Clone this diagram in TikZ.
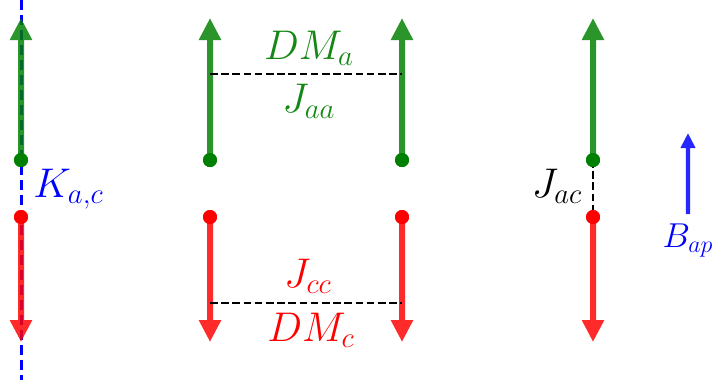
\documentclass[tikz,border=0pt]{standalone}
\usetikzlibrary{arrows.meta}
\definecolor{dgreen}{RGB}{0,128,0}
\definecolor{tgreen}{RGB}{20,135,20}
\tikzset{
  spin/.style={line width=3pt, -{Triangle[length=11pt,width=10.5pt]}},
  upspin/.style={spin, draw=dgreen},
  downspin/.style={spin, draw=red},
  tg/.style={transparency group, opacity=0.83},
  gdot/.style={circle, fill=dgreen, inner sep=0pt, minimum size=7pt},
  rdot/.style={circle, fill=red, inner sep=0pt, minimum size=7pt},
  bond/.style={line width=1.4pt, dash pattern=on 3.8pt off 1.8pt},
  axis/.style={line width=1.5pt, blue, dash pattern=on 5pt off 2.5pt},
  lab/.style={font=\huge, inner sep=0pt, anchor=base},
}
\begin{document}
\begin{tikzpicture}[x=0.5pt,y=-0.5pt]
\useasboundingbox (0,0) rectangle (718,388);
% left column
\coordinate (axtop) at (21,0);
\coordinate (axbot) at (21,380);
\draw[axis] (axtop) -- (axbot);
\node[gdot] (g1) at (21,160) {};
\node[rdot] (r1) at (21,217) {};
\coordinate (gt1) at (21,18);
\coordinate (rt1) at (21,342);
\begin{scope}[tg]\draw[upspin] (g1.center) -- (gt1);\end{scope}
\begin{scope}[tg]\draw[downspin] (r1.center) -- (rt1);\end{scope}
\node[gdot] at (g1) {};
\node[rdot] at (r1) {};
\node[lab, anchor=base west, blue] (K) at (33,197) {$K_{a,c}$};
% middle columns
\node[gdot] (g2) at (210,160) {};
\node[gdot] (g3) at (402,160) {};
\node[rdot] (r2) at (210,217) {};
\node[rdot] (r3) at (402,217) {};
\coordinate (gt2) at (210,18);
\coordinate (gt3) at (402,18);
\coordinate (rt2) at (210,342);
\coordinate (rt3) at (402,342);
\coordinate (ba1) at (210,74);
\coordinate (ba2) at (402,74);
\coordinate (bc1) at (210,303);
\coordinate (bc2) at (402,303);
\begin{scope}[tg]\draw[upspin] (g2.center) -- (gt2);\end{scope}
\begin{scope}[tg]\draw[upspin] (g3.center) -- (gt3);\end{scope}
\begin{scope}[tg]\draw[downspin] (r2.center) -- (rt2);\end{scope}
\begin{scope}[tg]\draw[downspin] (r3.center) -- (rt3);\end{scope}
\node[gdot] at (g2) {};
\node[gdot] at (g3) {};
\node[rdot] at (r2) {};
\node[rdot] at (r3) {};
\draw[bond] (ba1) -- (ba2);
\draw[bond] (bc1) -- (bc2);
\node[lab, text=tgreen] (DMa) at (309,59) {$DM_a$};
\node[lab, text=tgreen] (Jaa) at (309,112) {$J_{aa}$};
\node[lab, red] (Jcc) at (308,287) {$J_{cc}$};
\node[lab, red] (DMc) at (311,341) {$DM_c$};
% right column
\node[gdot] (g4) at (593,160) {};
\node[rdot] (r4) at (593,217) {};
\coordinate (gt4) at (593,18);
\coordinate (rt4) at (593,342);
\begin{scope}[tg]\draw[upspin] (g4.center) -- (gt4);\end{scope}
\begin{scope}[tg]\draw[downspin] (r4.center) -- (rt4);\end{scope}
\draw[bond] (g4.center) -- (r4.center);
\node[gdot] at (g4) {};
\node[rdot] at (r4) {};
\node[lab] (Jac) at (557,197) {$J_{ac}$};
% field
\coordinate (b0) at (688,214);
\coordinate (b1) at (688,133);
\begin{scope}[transparency group, opacity=0.85]
\draw[line width=2.2pt, blue, -{Triangle[length=7.5pt,width=7pt]}] (b0) -- (b1);
\end{scope}
\node[lab, font=\LARGE, blue] (Bap) at (688,247) {$B_{ap}$};
\end{tikzpicture}
\end{document}
